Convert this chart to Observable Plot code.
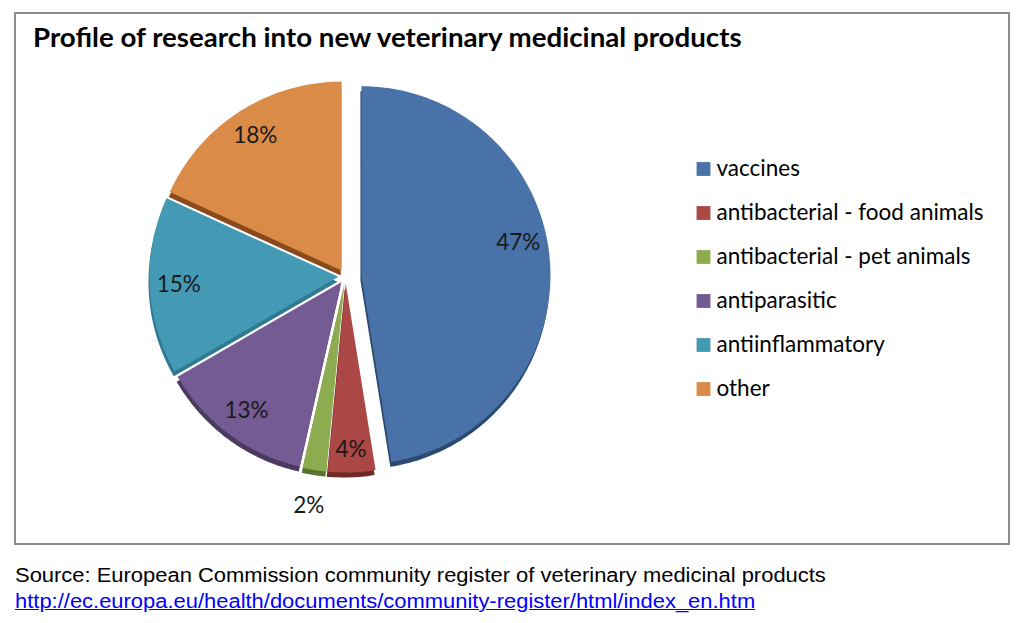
<!DOCTYPE html>
<html><head><meta charset="utf-8">
<script src="https://cdn.jsdelivr.net/npm/d3@7"></script>
<script src="https://cdn.jsdelivr.net/npm/@observablehq/plot@0.6"></script>
<style>
body{margin:0;background:#fff;width:1023px;height:623px;overflow:hidden;position:relative;}
#frame{position:absolute;left:14px;top:12px;width:996px;height:533px;border:2px solid #8c8c8c;box-sizing:border-box;}
#chart{position:absolute;left:0;top:0;}
#title{position:absolute;left:33px;top:20px;font-family:Lato,sans-serif;font-weight:bold;font-size:26.5px;line-height:34px;color:#000;white-space:nowrap;transform:scaleX(1.045);transform-origin:0 0;}
#source{position:absolute;left:15px;top:562px;font-family:"Liberation Sans",Arial,sans-serif;font-size:19.5px;line-height:26px;color:#000;white-space:nowrap;transform:scaleX(1.125);transform-origin:0 0;}
#source a{color:#0000ff;text-decoration:underline;}
</style></head>
<body>
<div id="frame"></div>
<div id="chart"></div>
<div id="title">Profile of research into new veterinary medicinal products</div>
<div id="source">Source: European Commission community register of veterinary medicinal products<br><a href="http://ec.europa.eu/health/documents/community-register/html/index_en.htm">http://ec.europa.eu/health/documents/community-register/html/index_en.htm</a></div>
<script>
// ---- data ----
const categories = ["vaccines", "antibacterial - food animals", "antibacterial - pet animals", "antiparasitic", "antiinflammatory", "other"];
const shares = [47, 4, 2, 13, 15, 18];
const labels = shares.map(v => v + "%");

// ---- style ----
const colors = ["#4872a8", "#ab4745", "#8cac4f", "#745b93", "#449ab5", "#da8b47"];
const shades = ["#2c4a70", "#6e2a28", "#5a7330", "#4a3a60", "#2f7a90", "#8a4a1c"];

const W = 1023, H = 545;
const cx = 345, cy = 276, R = 189;
const explodeMain = 16, explodeOther = 7;
const shadeDx = -1, shadeDy = 5;
const rad = Math.PI / 180;

const arcs = d3.pie().sort(null).value(d => d)(shares);

const slicePts = [], shadePts = [], labelPts = [];
arcs.forEach((a, i) => {
  const mid = (a.startAngle + a.endAngle) / 2;
  const ex = i === 0 ? explodeMain : explodeOther;
  const ox = cx + ex * Math.sin(mid), oy = cy - ex * Math.cos(mid);
  const pts = [[ox, oy]];
  const n = Math.max(4, Math.ceil((a.endAngle - a.startAngle) / rad));
  for (let k = 0; k <= n; k++) {
    const t = a.startAngle + (a.endAngle - a.startAngle) * k / n;
    pts.push([ox + R * Math.sin(t), oy - R * Math.cos(t)]);
  }
  pts.push([ox, oy]);
  pts.forEach(([x, y]) => {
    slicePts.push({key: categories[i], x, y});
    shadePts.push({key: categories[i] + "__shade", x: x + shadeDx, y: y + shadeDy});
  });
  const outside = shares[i] < 3;
  const lr = outside ? 225 : (shares[i] < 6 ? 166 : 160);
  // large slices: Excel best-fit puts the label a little above the mid-angle
  const la = shares[i] > 40 ? mid - 7 * rad : mid;
  labelPts.push({text: labels[i], x: ox + lr * Math.sin(la), y: oy - lr * Math.cos(la)});
});

const legend = categories.map((c, i) => ({key: c, x: 703, y: 168.5 + 44 * i}));

const chart = Plot.plot({
  width: W, height: H, margin: 0,
  x: {domain: [0, W], range: [0, W], axis: null},
  y: {domain: [0, H], range: [0, H], axis: null},
  color: {domain: categories.concat(categories.map(c => c + "__shade")), range: colors.concat(shades)},
  style: {background: "transparent", overflow: "visible"},
  marks: [
    Plot.line(shadePts, {x: "x", y: "y", z: "key", fill: "key", stroke: "none", curve: "linear"}),
    Plot.line(slicePts, {x: "x", y: "y", z: "key", fill: "key", stroke: "none", curve: "linear"}),
    Plot.text(labelPts, {x: "x", y: "y", text: "text", fontSize: 22.5, fontFamily: "Lato, sans-serif", fill: "#1a1a1a", textAnchor: "middle"}),
    Plot.dot(legend, {x: "x", y: "y", fill: "key", symbol: "square", r: 7.8, stroke: "none"}),
    Plot.text(legend, {x: d => d.x + 13, y: "y", text: "key", fontSize: 22.5, fontFamily: "Lato, sans-serif", fill: "#000", textAnchor: "start"})
  ]
});
document.getElementById("chart").appendChild(chart);
</script>
</body></html>
